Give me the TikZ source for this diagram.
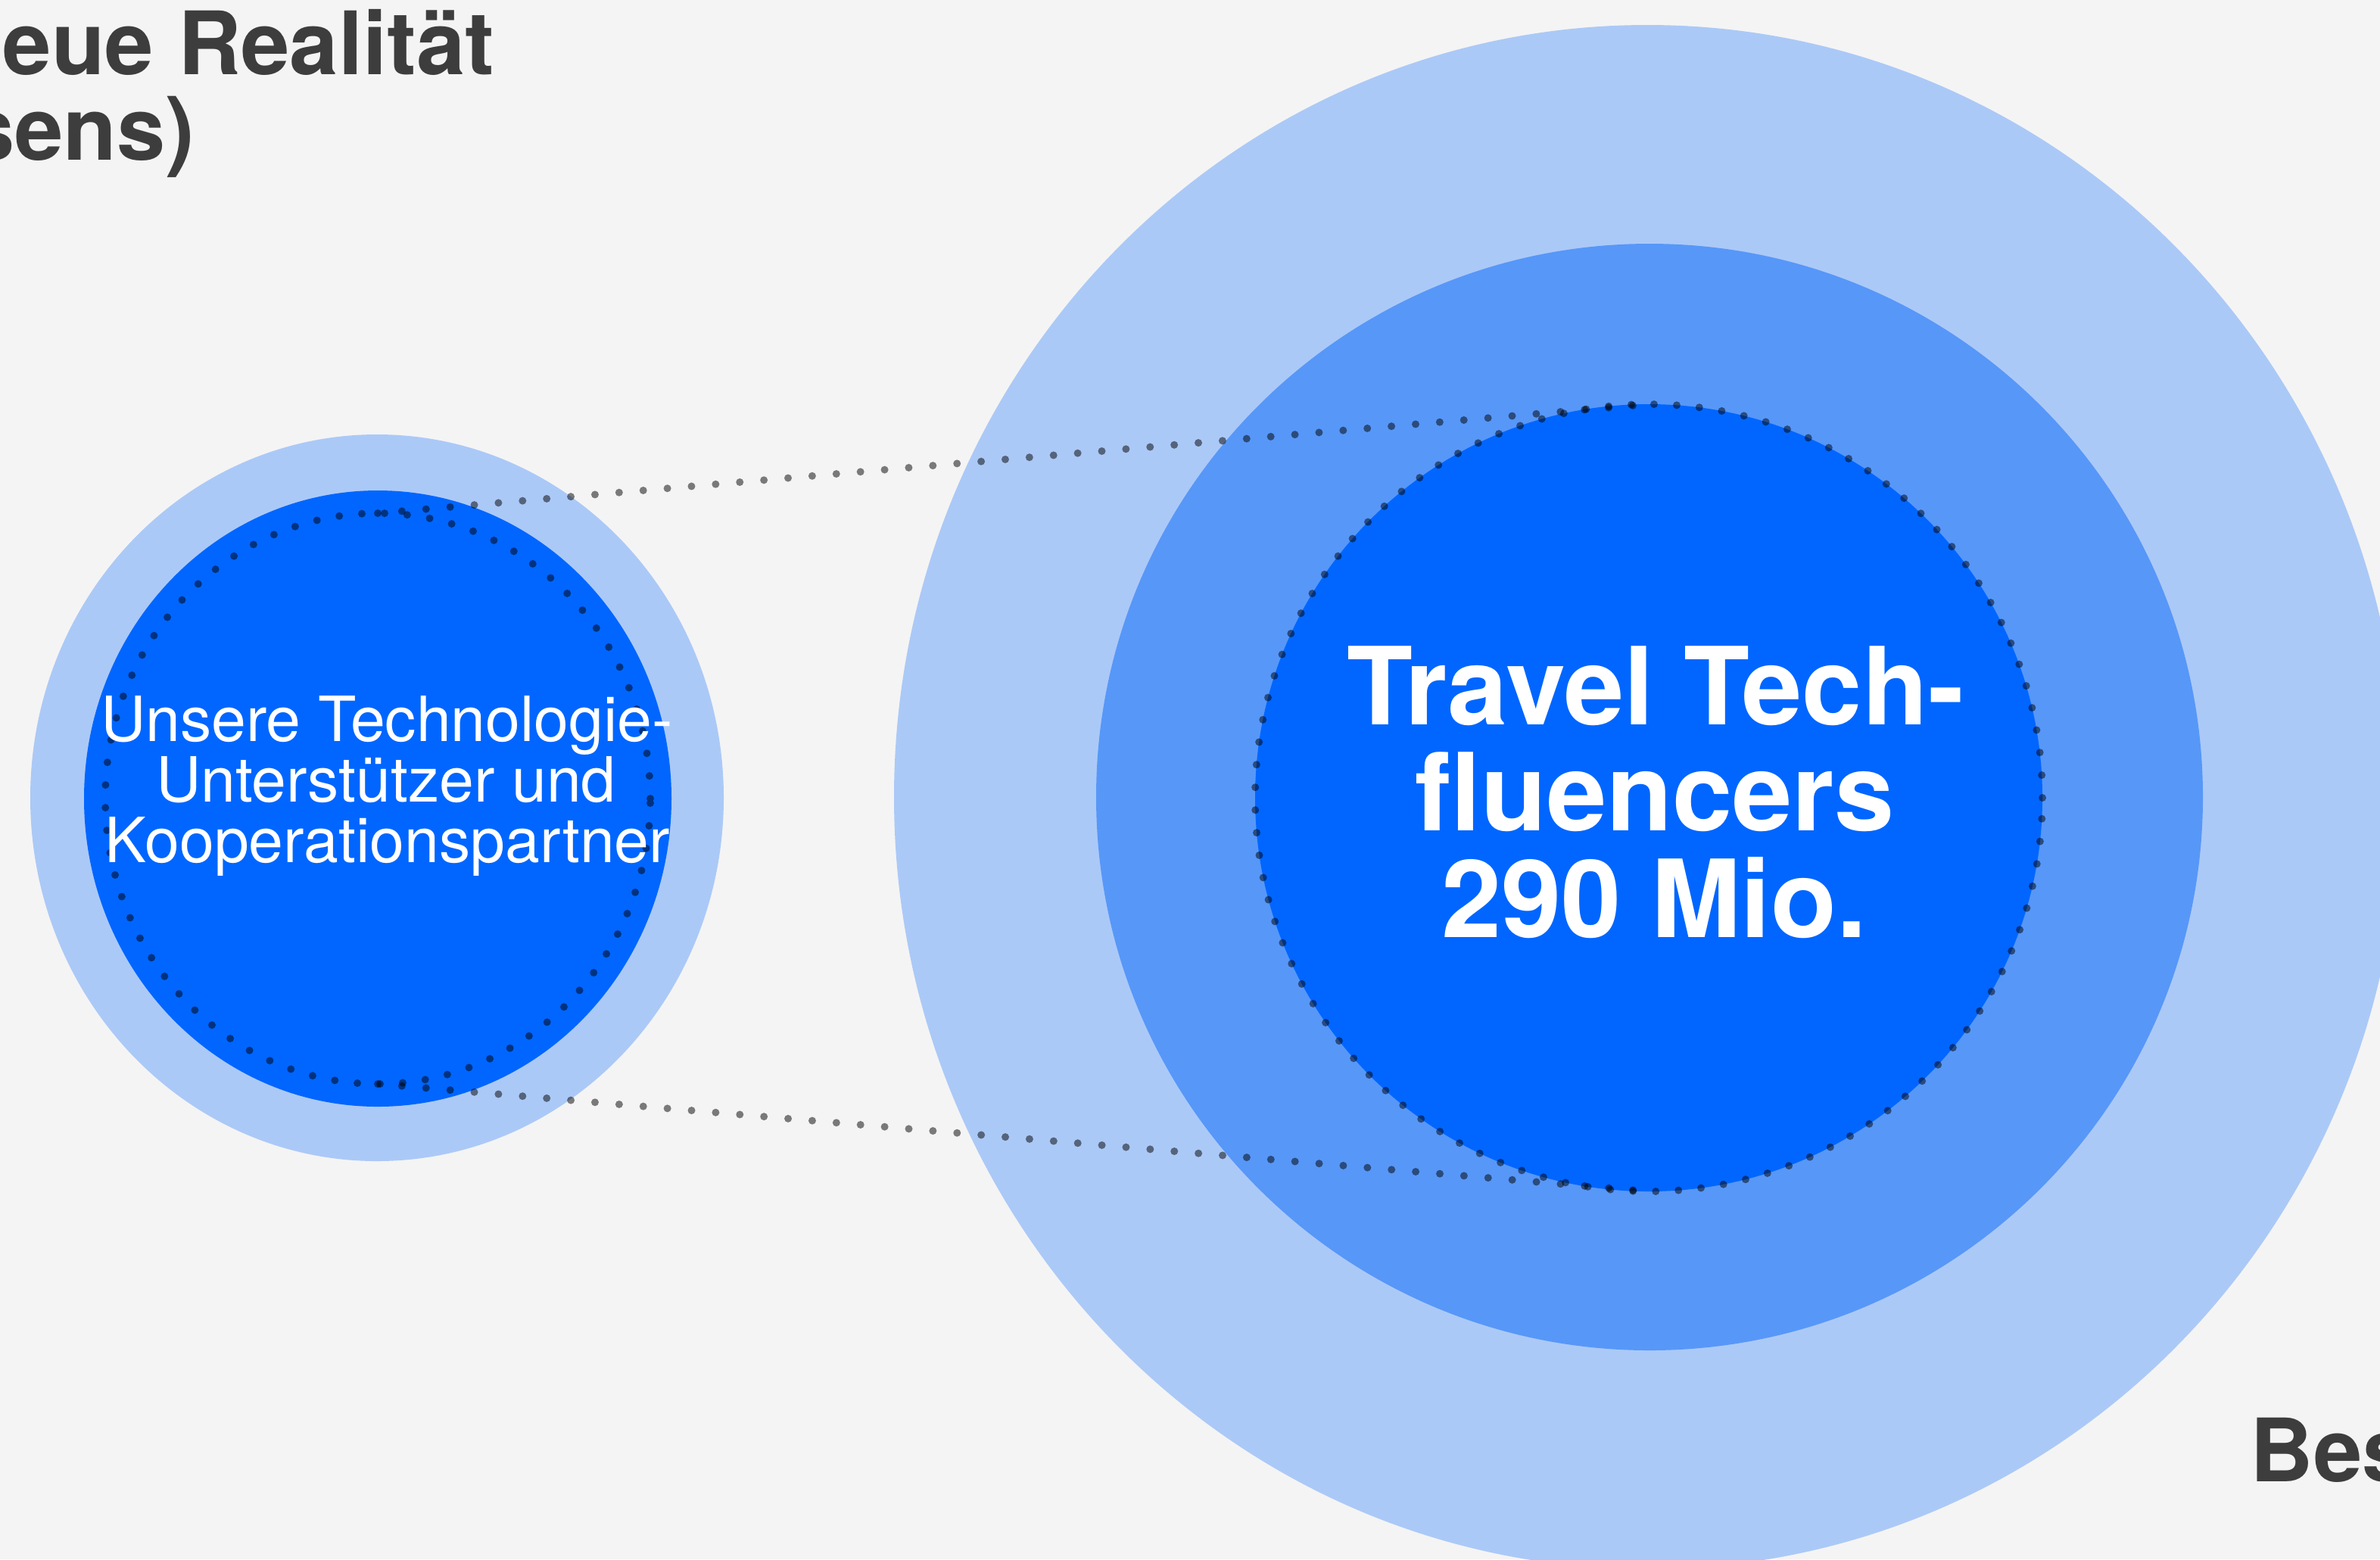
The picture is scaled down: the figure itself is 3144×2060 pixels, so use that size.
\documentclass[tikz,border=0pt]{standalone}
\usepackage{fontspec}
\setmainfont{TeX Gyre Heros}
\usetikzlibrary{shapes.geometric}
\definecolor{bgcol}{HTML}{F4F4F4}
\definecolor{lightblue}{HTML}{ABC9F7}
\definecolor{midblue}{HTML}{5797F8}
\definecolor{deepblue}{HTML}{0066FF}
\definecolor{darktext}{HTML}{3D3D3D}
\begin{document}
\begin{tikzpicture}[x=0.25pt,y=-0.25pt,
  dotline/.style={draw=black, draw opacity=0.5, line width=2.5pt, line cap=round, dash pattern=on 0pt off 8pt},
  dotring/.style={draw=black, draw opacity=0.5, line width=2.5pt, line cap=round, dash pattern=on 0pt off 7.5pt, inner sep=0pt, outer sep=0pt},
  bigtxt/.style={text=white, inner sep=0pt, font=\bfseries\fontsize{35.6pt}{35pt}\selectfont},
  smalltxt/.style={text=white, inner sep=0pt, font=\fontsize{20.6pt}{20pt}\selectfont},
  titletxt/.style={text=darktext, inner sep=0pt, font=\bfseries\fontsize{28.9pt}{28.25pt}\selectfont}]
\useasboundingbox (0,0) rectangle (3144,2060);
\clip (0,0) rectangle (3144,2060);
\fill[bgcol] (0,0) rectangle (3144,2060);
% right group of rings
\fill[lightblue] (2176,1053) ellipse [x radius=995, y radius=1020];
\fill[midblue] (2179,1053) circle [radius=731];
\node[dotring, circle, fill=deepblue, minimum size=260pt] (bigdot) at (2178,1054) {};
% left group of rings
\fill[lightblue] (498,1054) ellipse [x radius=458, y radius=480];
\fill[deepblue] (499,1055) ellipse [x radius=388, y radius=407];
\node[dotring, ellipse, minimum width=180pt, minimum height=188.5pt] (leftdot) at (499,1055) {};
% connectors
\draw[dotline] (leftdot.north) -- (bigdot.north);
\draw[dotline] (leftdot.south) -- (bigdot.south);
% texts
\node[bigtxt, anchor=base] (t1) at (2187,957) {Travel Tech-};
\node[bigtxt, anchor=base] (t2) at (2186,1097) {fluencers};
\node[bigtxt, anchor=base] (t3) at (2185,1238) {290 Mio.};
\node[smalltxt, anchor=base] (s1) at (511,979) {Unsere Technologie-};
\node[smalltxt, anchor=base] (s2) at (510,1059) {Unterstützer und};
\node[smalltxt, anchor=base] (s3) at (512,1139) {Kooperationspartner};
\node[titletxt, anchor=base west] (h1) at (3,98) {eue Realität};
\node[titletxt, anchor=base east] (h2) at (258,211) {sens)};
\node[titletxt, anchor=base west] (h3) at (2972,1957) {Bes};
\end{tikzpicture}
\end{document}
